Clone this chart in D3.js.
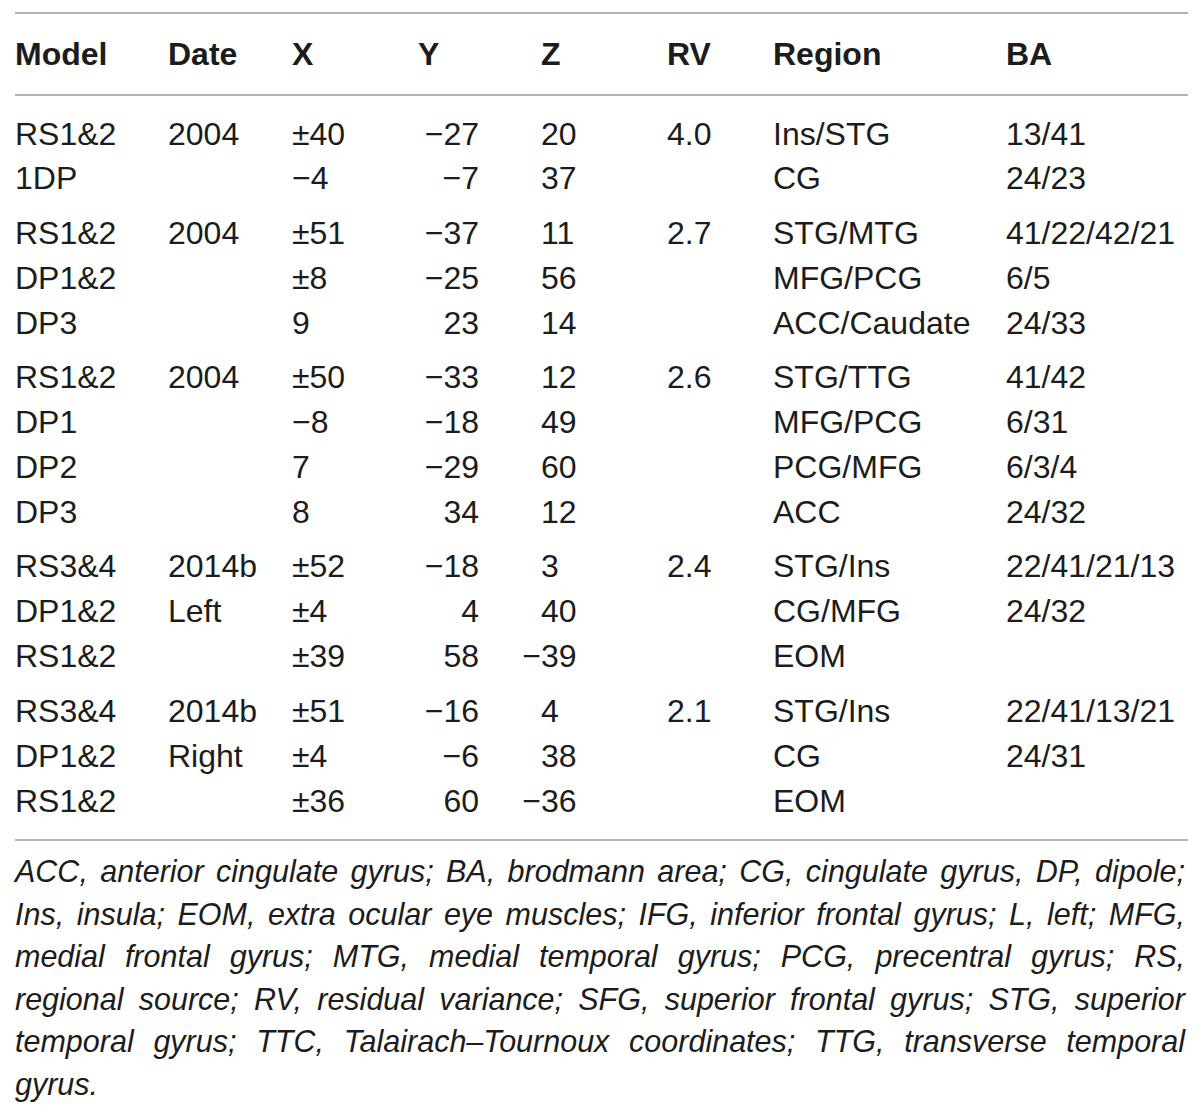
<!DOCTYPE html>
<html lang="en">
<head>
<meta charset="UTF-8">
<title>Dipole source table</title>
<style>
    body { margin: 0; background: #fff; }
    svg text { font-family: "Liberation Sans", Arial, sans-serif; fill: #1c1c1c; }
    .head { font-weight: bold; font-size: 32px; }
    .cell { font-size: 32px; font-weight: 300; }
    .note { font-size: 30.5px; font-style: italic; font-weight: 300; }
    .rule { stroke: #b3b3b3; stroke-width: 2; }
</style>
</head>
<body>
<svg width="1200" height="1116"></svg>
<script src="https://d3js.org/d3.v7.min.js"></script>
<script>
    const headers = ["Model", "Date", "X", "Y", "Z", "RV", "Region", "BA"];
    const groupSizes = [2, 3, 4, 3, 3];

    const models  = ["RS1&2", "1DP", "RS1&2", "DP1&2", "DP3", "RS1&2", "DP1", "DP2", "DP3",
                     "RS3&4", "DP1&2", "RS1&2", "RS3&4", "DP1&2", "RS1&2"];
    const dates   = ["2004", "", "2004", "", "", "2004", "", "", "",
                     "2014b", "Left", "", "2014b", "Right", ""];
    const xs      = ["±40", "−4", "±51", "±8", "9", "±50", "−8", "7", "8",
                     "±52", "±4", "±39", "±51", "±4", "±36"];
    const ys      = ["−27", "−7", "−37", "−25", "23", "−33", "−18", "−29", "34",
                     "−18", "4", "58", "−16", "−6", "60"];
    const zs      = ["20", "37", "11", "56", "14", "12", "49", "60", "12",
                     "3", "40", "−39", "4", "38", "−36"];
    const rvs     = ["4.0", "", "2.7", "", "", "2.6", "", "", "",
                     "2.4", "", "", "2.1", "", ""];
    const regions = ["Ins/STG", "CG", "STG/MTG", "MFG/PCG", "ACC/Caudate", "STG/TTG", "MFG/PCG", "PCG/MFG", "ACC",
                     "STG/Ins", "CG/MFG", "EOM", "STG/Ins", "CG", "EOM"];
    const bas     = ["13/41", "24/23", "41/22/42/21", "6/5", "24/33", "41/42", "6/31", "6/3/4", "24/32",
                     "22/41/21/13", "24/32", "", "22/41/13/21", "24/31", ""];

    const noteLines = [
        "ACC, anterior cingulate gyrus; BA, brodmann area; CG, cingulate gyrus, DP, dipole;",
        "Ins, insula; EOM, extra ocular eye muscles; IFG, inferior frontal gyrus; L, left; MFG,",
        "medial frontal gyrus; MTG, medial temporal gyrus; PCG, precentral gyrus; RS,",
        "regional source; RV, residual variance; SFG, superior frontal gyrus; STG, superior",
        "temporal gyrus; TTC, Talairach–Tournoux coordinates; TTG, transverse temporal",
        "gyrus."
    ];

    const svg = d3.select("svg");
    const left = 15, right = 1188;

    // column layout: left edge of each column, Y is right aligned at its end
    const colX = [15, 168, 292, 418, 541, 667, 773, 1006];
    const yEnd = 479;

    // rows: position by index, extra gap between groups
    const rowGroup = [];
    groupSizes.forEach((n, g) => { for (let i = 0; i < n; i++) rowGroup.push(g); });
    const step = 44.9, groupGap = 9.6;
    const rowY = d3.scaleLinear().domain([0, 1]).range([133, 133 + step]);
    const yOf = i => rowY(i) + rowGroup[i] * groupGap;

    // rules
    [13, 95, 840].forEach(y => {
        svg.append("line").attr("class", "rule")
            .attr("x1", left).attr("x2", right).attr("y1", y).attr("y2", y);
    });

    svg.append("g").selectAll("text")
        .data(headers)
        .join("text")
        .attr("class", "head")
        .attr("x", (d, i) => colX[i])
        .attr("y", 65)
        .text(d => d);

    const columns = [models, dates, xs, ys, zs, rvs, regions, bas];
    const body = svg.append("g");

    // width of a minus sign, so Z negatives hang to the left
    const probe = body.append("text").attr("class", "cell").text("−");
    const minusW = probe.node().getComputedTextLength();
    probe.remove();

    columns.forEach((col, c) => {
        body.append("g").selectAll("text")
            .data(col)
            .join("text")
            .attr("class", "cell")
            .attr("y", (d, i) => yOf(i) + 11.5)
            .attr("x", d => {
                if (c === 3) return yEnd;
                if (c === 4 && d.startsWith("−")) return colX[c] - minusW;
                return colX[c];
            })
            .attr("text-anchor", c === 3 ? "end" : "start")
            .text(d => d);
    });

    // footnote, justified to the table width except the last line
    const notes = svg.append("g");
    noteLines.forEach((line, li) => {
        const y = 882 + li * 42.6;
        const words = line.split(" ");
        const texts = words.map(w => notes.append("text").attr("class", "note").attr("y", y).text(w));
        const widths = texts.map(t => t.node().getComputedTextLength());
        const total = d3.sum(widths);
        const last = li === noteLines.length - 1;
        const gap = last ? 8 : (right - 3 - left - total) / (words.length - 1);
        let x = left;
        texts.forEach((t, k) => {
            t.attr("x", x);
            x += widths[k] + gap;
        });
    });
</script>
</body>
</html>
